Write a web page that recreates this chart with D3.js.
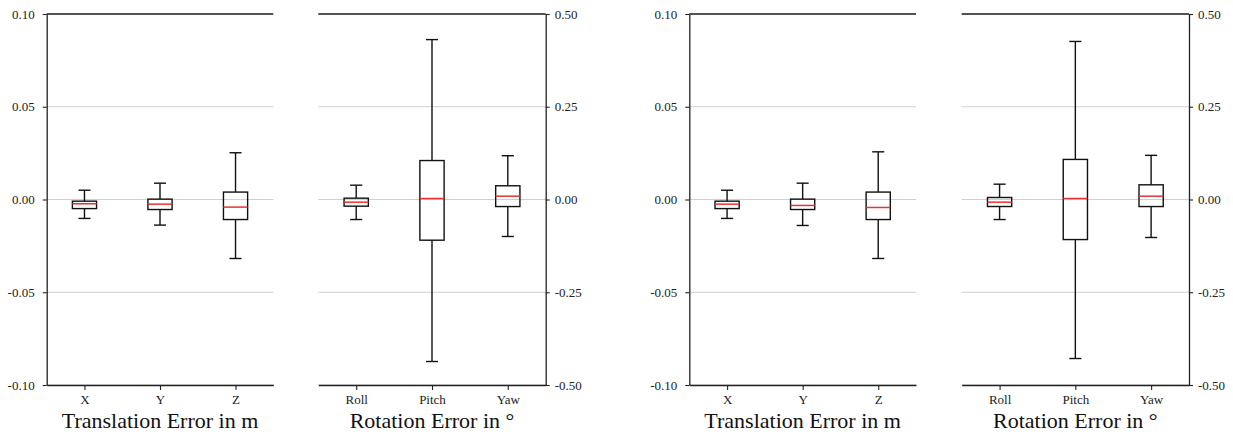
<!DOCTYPE html>
<html lang="en">
<head>
    <meta charset="UTF-8">
    <title>pose error boxplots</title>
    <script src="https://cdn.jsdelivr.net/npm/d3@7"></script>
    <style>
        body { margin: 0; background: #fff; }
        text { font-family: "Liberation Serif", "Times New Roman", serif; }
    </style>
</head>
<body>

<script>

    // categories
    var transCats = ["X", "Y", "Z"];
    var rotCats = ["Roll", "Pitch", "Yaw"];

    // tick values
    var transTicks = [-0.10, -0.05, 0.00, 0.05, 0.10];
    var rotTicks = [-0.50, -0.25, 0.00, 0.25, 0.50];

    // box stats per category: [whisker low, q1, median, q3, whisker high]
    var transLeft = [
        [-0.0102, -0.0049, -0.0023, -0.0009, 0.0050],
        [-0.0138, -0.0054, -0.0025, 0.0002, 0.0088],
        [-0.0318, -0.0108, -0.0041, 0.0040, 0.0252]
    ];
    var rotLeft = [
        [-0.054, -0.018, -0.0072, 0.0036, 0.0386],
        [-0.4367, -0.1097, 0.0027, 0.105, 0.431],
        [-0.0997, -0.019, 0.009, 0.037, 0.118]
    ];
    var transRight = [
        [-0.0102, -0.0049, -0.0025, -0.0009, 0.0050],
        [-0.0140, -0.0054, -0.0032, 0.0002, 0.0088],
        [-0.0318, -0.0108, -0.0043, 0.0040, 0.0257]
    ];
    var rotRight = [
        [-0.054, -0.0189, -0.0072, 0.0054, 0.0413],
        [-0.4286, -0.108, 0.0027, 0.108, 0.426],
        [-0.1024, -0.019, 0.009, 0.0396, 0.119]
    ];

    var width = 1233;
    var height = 436;
    var yTop = 14, yBottom = 385;

    var svg = d3.select("body").append("svg")
        .attr("width", width)
        .attr("height", height);

    var panels = [
        {x0: 46.7, x1: 273.3, side: "left", cats: transCats, ticks: transTicks, data: transLeft, title: "Translation Error in m"},
        {x0: 318.3, x1: 545.7, side: "right", cats: rotCats, ticks: rotTicks, data: rotLeft, title: "Rotation Error in \u00b0"},
        {x0: 689.3, x1: 916, side: "left", cats: transCats, ticks: transTicks, data: transRight, title: "Translation Error in m"},
        {x0: 961.7, x1: 1189, side: "right", cats: rotCats, ticks: rotTicks, data: rotRight, title: "Rotation Error in \u00b0"}
    ];

    panels.forEach(function (p) {
        var g = svg.append("g");

        var xScale = d3.scaleLinear()
            .domain([0.5, 3.5])
            .range([p.x0, p.x1]);
        var yScale = d3.scaleLinear()
            .domain([p.ticks[0], p.ticks[p.ticks.length - 1]])
            .range([yBottom, yTop]);

        // grid
        g.append("g").selectAll("line")
            .data(p.ticks)
            .enter().append("line")
            .attr("x1", p.x0).attr("x2", p.x1)
            .attr("y1", function (d) { return yScale(d); })
            .attr("y2", function (d) { return yScale(d); })
            .attr("stroke", "#cfcfcf")
            .attr("stroke-width", 1);

        // boxes
        var bw = 0.32;
        var boxes = g.append("g").selectAll("g")
            .data(p.data)
            .enter().append("g");

        boxes.append("line")
            .attr("x1", function (d, i) { return xScale(i + 1); })
            .attr("x2", function (d, i) { return xScale(i + 1); })
            .attr("y1", function (d) { return yScale(d[3]); })
            .attr("y2", function (d) { return yScale(d[4]); })
            .attr("stroke", "#111").attr("stroke-width", 1.4);
        boxes.append("line")
            .attr("x1", function (d, i) { return xScale(i + 1); })
            .attr("x2", function (d, i) { return xScale(i + 1); })
            .attr("y1", function (d) { return yScale(d[1]); })
            .attr("y2", function (d) { return yScale(d[0]); })
            .attr("stroke", "#111").attr("stroke-width", 1.4);
        [0, 4].forEach(function (k) {
            boxes.append("line")
                .attr("x1", function (d, i) { return xScale(i + 1 - bw / 4); })
                .attr("x2", function (d, i) { return xScale(i + 1 + bw / 4); })
                .attr("y1", function (d) { return yScale(d[k]); })
                .attr("y2", function (d) { return yScale(d[k]); })
                .attr("stroke", "#111").attr("stroke-width", 1.4);
        });
        boxes.append("rect")
            .attr("x", function (d, i) { return xScale(i + 1 - bw / 2); })
            .attr("width", function () { return xScale(1 + bw) - xScale(1); })
            .attr("y", function (d) { return yScale(d[3]); })
            .attr("height", function (d) { return yScale(d[1]) - yScale(d[3]); })
            .attr("fill", "none")
            .attr("stroke", "#111").attr("stroke-width", 1.4);
        boxes.append("line")
            .attr("x1", function (d, i) { return xScale(i + 1 - bw / 2); })
            .attr("x2", function (d, i) { return xScale(i + 1 + bw / 2); })
            .attr("y1", function (d) { return yScale(d[2]); })
            .attr("y2", function (d) { return yScale(d[2]); })
            .attr("stroke", "#f03030").attr("stroke-width", 1.5);

        // axes
        var xAxis = d3.axisBottom(xScale)
            .tickValues([1, 2, 3])
            .tickFormat(function (d) { return p.cats[d - 1]; })
            .tickSize(5).tickSizeOuter(0).tickPadding(5);
        var xg = g.append("g")
            .attr("transform", "translate(0," + yBottom + ")")
            .call(xAxis);
        xg.selectAll("text").attr("font-size", 13).attr("fill", "#222");

        var yAxis = (p.side === "left" ? d3.axisLeft(yScale) : d3.axisRight(yScale))
            .tickValues(p.ticks)
            .tickFormat(d3.format(".2f"))
            .tickSize(4).tickSizeOuter(0).tickPadding(p.side === "left" ? 8 : 5);
        var yg = g.append("g")
            .attr("transform", "translate(" + (p.side === "left" ? p.x0 : p.x1) + ",0)")
            .call(yAxis);
        yg.selectAll("text")
            .attr("font-size", 13).attr("fill", "#222")
            .text(function (d) { return d3.format(".2f")(d).replace("\u2212", "-"); });

        [xg, yg].forEach(function (a) {
            a.select(".domain").attr("stroke", "#222").attr("stroke-width", 1.3);
            a.selectAll(".tick line").attr("stroke", "#222").attr("stroke-width", 1.1);
        });

        // top spine
        g.append("line")
            .attr("x1", p.x0).attr("x2", p.x1)
            .attr("y1", yScale(p.ticks[p.ticks.length - 1]))
            .attr("y2", yScale(p.ticks[p.ticks.length - 1]))
            .attr("stroke", "#222").attr("stroke-width", 1.3);

        // title
        g.append("text")
            .attr("x", (p.x0 + p.x1) / 2)
            .attr("y", 428)
            .attr("text-anchor", "middle")
            .attr("font-size", 22)
            .attr("fill", "#111")
            .text(p.title);
    });

</script>
</body>
</html>
